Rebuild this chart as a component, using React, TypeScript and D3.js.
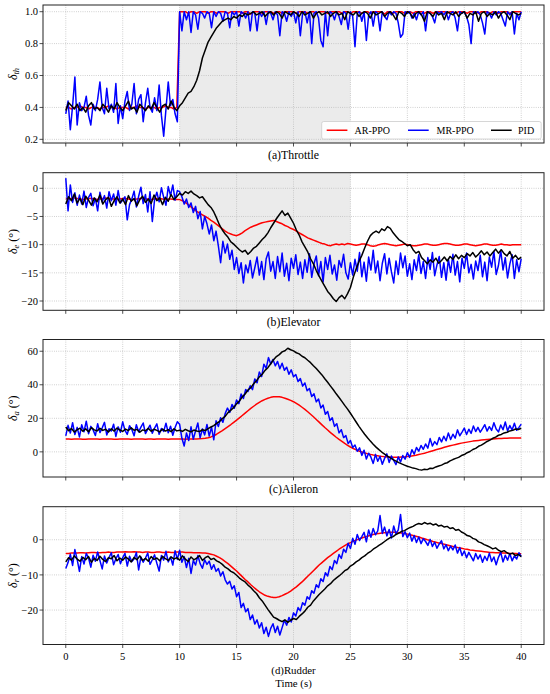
import React from "react";
import * as d3 from "d3";

// ---------------- DATA ----------------
const X_TICKS = [0, 5, 10, 15, 20, 25, 30, 35, 40];
const SHADE = [10, 25];
const DT_AR = 0.25;
const DT_PID = 0.25;
const DT_MR = 0.2;
const SERIES_NAMES = ["AR-PPO", "MR-PPO", "PID"];

// (a) Throttle
const THROTTLE_AR = [
  0.40, 0.40, 0.39, 0.40, 0.40, 0.41, 0.40, 0.40, 0.39, 0.40,
  0.40, 0.40, 0.39, 0.40, 0.40, 0.41, 0.40, 0.40, 0.39, 0.40,
  0.40, 0.40, 0.39, 0.40, 0.40, 0.41, 0.40, 0.40, 0.39, 0.40,
  0.40, 0.40, 0.39, 0.40, 0.40, 0.41, 0.40, 0.40, 0.39, 0.40,
  1.0,
  1.0, 1.0, 0.99, 1.0, 1.0, 0.99, 1.0, 1.0, 1.0, 0.99, 1.0, 1.0, 0.99, 1.0, 1.0, 1.0, 0.99, 1.0, 1.0, 1.0,
  1.0, 0.99, 1.0, 1.0, 0.985, 1.0, 1.0, 1.0, 0.99, 1.0, 1.0, 1.0, 0.99, 1.0, 1.0, 0.99, 1.0, 1.0, 1.0, 1.0,
  0.99, 1.0, 1.0, 1.0, 0.99, 1.0, 1.0, 0.99, 1.0, 1.0, 1.0, 0.99, 1.0, 1.0, 1.0, 1.0, 0.99, 1.0, 1.0, 0.99,
  1.0, 1.0, 1.0, 0.99, 1.0, 1.0, 0.99, 1.0, 1.0, 1.0, 1.0, 0.985, 1.0, 1.0, 0.99, 1.0, 1.0, 1.0, 0.99, 1.0,
  1.0, 0.99, 1.0, 1.0, 1.0, 0.99, 1.0, 1.0, 0.99, 1.0, 1.0, 1.0, 1.0, 0.99, 1.0, 1.0, 0.99, 1.0, 1.0, 1.0,
  0.99, 1.0, 1.0, 1.0, 0.99, 1.0, 1.0, 1.0, 0.99, 1.0, 1.0, 0.99, 1.0, 1.0, 1.0, 0.99, 1.0, 1.0, 1.0, 1.0,
];
const THROTTLE_MR = [
  0.36, 0.44, 0.26, 0.41, 0.59, 0.29, 0.43, 0.38, 0.40, 0.47,
  0.35, 0.29, 0.42, 0.38, 0.45, 0.56, 0.40, 0.36, 0.52, 0.39,
  0.42, 0.37, 0.55, 0.30, 0.41, 0.33, 0.44, 0.50, 0.38, 0.42,
  0.55, 0.36, 0.45, 0.48, 0.31, 0.43, 0.52, 0.40, 0.37, 0.46,
  0.38, 0.54, 0.35, 0.22, 0.39, 0.56, 0.41, 0.45, 0.36, 0.31,
  1.0,
  0.88, 1.0, 0.95, 1.0, 0.87, 1.0, 0.98, 0.89, 1.0, 0.99,
  0.96, 1.0, 0.99, 0.90, 1.0, 0.97, 1.0, 0.99, 0.94, 1.0,
  0.99, 0.90, 1.0, 0.98, 1.0, 0.91, 1.0, 0.99, 0.96, 1.0,
  0.88, 1.0, 0.99, 0.88, 1.0, 0.97, 1.0, 0.92, 1.0, 0.99,
  0.95, 1.0, 0.98, 0.85, 1.0, 0.99, 0.94, 1.0, 0.97, 1.0,
  0.93, 1.0, 0.85, 0.99, 1.0, 0.93, 1.0, 0.80, 0.99, 1.0,
  0.96, 0.82, 0.78, 1.0, 0.85, 1.0, 0.99, 0.95, 1.0, 0.97,
  0.92, 1.0, 0.99, 0.89, 1.0, 0.97, 0.78, 0.99, 1.0, 0.94,
  1.0, 0.82, 0.98, 1.0, 0.91, 1.0, 0.99, 0.88, 1.0, 0.97,
  0.95, 1.0, 0.98, 1.0, 0.99, 0.93, 0.84, 0.86, 1.0, 0.99,
  1.0, 0.96, 0.99, 0.95, 1.0, 0.98, 1.0, 0.88, 1.0, 0.99,
  0.97, 0.93, 1.0, 0.99, 1.0, 0.98, 1.0, 0.95, 0.99, 1.0,
  0.96, 0.88, 1.0, 0.99, 1.0, 0.97, 0.92, 0.80, 1.0, 0.99,
  1.0, 0.98, 0.93, 0.86, 1.0, 0.99, 0.96, 1.0, 0.98, 1.0,
  0.99, 0.95, 0.91, 1.0, 0.98, 1.0, 0.86, 0.99, 0.95, 1.0,
];
const THROTTLE_PID = [
  0.38, 0.43, 0.41, 0.39, 0.42, 0.38, 0.40, 0.37, 0.41, 0.43,
  0.39, 0.40, 0.38, 0.42, 0.40, 0.37, 0.41, 0.39, 0.43, 0.40,
  0.38, 0.41, 0.44, 0.39, 0.40, 0.37, 0.42, 0.40, 0.38, 0.41,
  0.39, 0.43, 0.40, 0.37, 0.41, 0.42, 0.39, 0.44, 0.40, 0.38,
  0.41,
  0.43, 0.46, 0.49, 0.50, 0.53, 0.57, 0.63, 0.71, 0.76, 0.81, 0.84, 0.87,
  0.90, 0.92, 0.94, 0.95, 0.96, 0.95, 0.97, 0.96, 0.98, 0.97, 0.99, 0.98,
  0.99, 1.0, 0.98, 0.99, 1.0, 0.97, 0.99, 1.0, 0.98, 1.0, 0.99, 0.96,
  1.0, 0.99, 0.98, 1.0, 0.99, 0.97, 1.0, 0.98, 0.99, 1.0, 0.96, 0.99,
  1.0, 0.98, 0.99, 1.0, 0.97, 0.99, 1.0, 0.98, 0.99, 0.95, 1.0, 0.99,
  0.98, 1.0, 0.97, 0.99, 1.0, 0.99, 0.96, 1.0, 0.98, 0.99, 1.0, 0.97,
  0.99, 1.0, 0.98, 0.95, 1.0, 0.99, 0.97, 1.0, 0.99, 0.96, 0.99, 1.0,
  0.98, 0.94, 1.0, 0.99, 0.97, 1.0, 0.98, 0.99, 0.95, 1.0, 0.99, 0.98,
  1.0, 0.97, 0.99, 1.0, 0.96, 0.99, 0.98, 1.0, 0.94, 0.99, 1.0, 0.97,
  0.99, 0.98, 1.0, 0.96, 0.99, 1.0, 0.98, 0.95, 1.0, 0.99, 0.98, 0.99,
];
const THROTTLE_Y_TICKS = [0.2, 0.4, 0.6, 0.8, 1.0];

// (b) Elevator
const ELEVATOR_AR = [
  -1.8, -1.9, -1.8, -1.7, -1.8, -1.9, -2.0, -1.9, -1.8, -1.8,
  -1.9, -2.0, -1.9, -1.8, -1.7, -1.8, -1.9, -1.9, -2.0, -1.9,
  -1.8, -1.8, -1.9, -2.0, -2.0, -1.9, -1.8, -1.8, -1.9, -1.9,
  -2.0, -1.9, -1.8, -1.8, -1.9, -2.0, -1.9, -1.9, -2.0, -2.0,
  -2.0, -2.2, -2.5, -2.9, -3.3, -3.7, -4.1, -4.4, -4.7, -5.0,
  -5.3, -5.7, -6.0, -6.4, -6.8, -7.2, -7.6, -7.9, -8.1, -8.3,
  -8.4, -8.2, -7.9, -7.5, -7.2, -6.9, -6.7, -6.5, -6.3, -6.1,
  -6.0, -5.9, -5.8, -5.7, -5.9, -6.1, -6.3, -6.6, -6.8, -7.1,
  -7.3, -7.6, -7.9, -8.2, -8.5, -8.8, -9.0, -9.2, -9.4, -9.6,
  -9.8, -9.9, -10.1, -10.2, -10.0, -9.9, -10.0, -9.9, -10.0, -9.8,
  -9.9,
  -10.0, -10.1, -10.0, -9.9, -9.9, -10.0, -10.2, -10.3, -10.2, -10.0,
  -9.9, -9.8, -9.9, -10.0, -10.1, -10.2, -10.1, -10.0, -9.9, -10.0,
  -10.1, -10.2, -10.2, -10.1, -10.0, -9.9, -9.9, -10.0, -10.1, -10.1,
  -10.0, -9.9, -9.8, -9.8, -9.9, -10.0, -10.1, -10.1, -10.0, -9.9,
  -9.9, -10.0, -10.1, -10.2, -10.1, -10.0, -9.9, -9.9, -10.0, -10.1,
  -10.1, -10.0, -9.9, -10.0, -10.0, -10.1, -10.0, -10.0, -10.0, -10.0,
];
const ELEVATOR_MR = [
  1.8, -4.0, 0.6, -2.5, -0.8, -3.0, -1.2, -2.8, -0.5, -3.4,
  -1.6, -0.9, -3.1, -1.8, -4.0, -0.7, -2.4, -1.3, -3.5, -0.6,
  -2.2, -1.0, -3.0, -0.4, -2.6, -2.1, -1.5, -5.6, -2.9, -1.9,
  -0.5, -3.3, -1.4, 0.2, -2.7, -1.1, -4.2, -0.6, -5.9, -2.0,
  -0.7, -2.4, 0.1, -1.6, -3.0, 0.3, -1.3, 0.6, -2.1, -0.4,
  -0.6,
  -1.5, -2.8, -1.9, -3.4, -2.6, -4.3, -3.2, -5.4, -4.1, -7.2,
  -5.0, -6.3, -8.1, -6.5, -9.3, -7.6, -10.2, -13.2, -9.4, -11.5,
  -9.9, -12.6, -11.0, -14.4, -12.3, -15.1, -13.2, -16.8, -13.6, -15.0,
  -12.8, -15.9, -14.1, -12.2, -15.4, -13.0, -16.2, -12.5, -11.3, -14.7,
  -13.0, -16.0, -12.1, -14.8, -11.5, -15.6, -13.3, -16.4, -12.4, -14.2,
  -11.8, -15.3, -13.1, -16.0, -12.7, -14.9, -11.6, -15.8, -13.4, -12.0,
  -15.5, -13.0, -16.6, -12.3, -14.4, -11.9, -15.2, -13.6, -16.3, -12.8,
  -14.0, -11.7, -15.0, -16.1, -13.2, -15.4, -12.6, -14.7, -11.4, -15.7,
  -13.1, -16.5, -12.2, -14.5, -11.0, -15.0, -12.9, -16.4, -13.3, -11.6,
  -15.2, -12.4, -14.8, -16.8, -12.9, -15.3, -11.5, -14.1, -12.0, -15.6,
  -13.4, -16.2, -12.7, -14.6, -11.8, -15.1, -13.0, -16.0, -12.3, -14.4,
  -11.4, -15.5, -13.6, -12.1, -15.8, -13.2, -16.3, -12.6, -14.9, -11.7,
  -15.4, -13.0, -16.6, -12.4, -14.2, -11.5, -15.0, -13.5, -16.1, -12.9,
  -14.6, -11.9, -15.7, -13.1, -16.4, -12.2, -14.0, -11.2, -15.3, -13.7,
  -11.0, -14.5, -12.3, -15.9, -13.4, -11.8, -16.0, -12.7, -14.8, -12.5,
];
const ELEVATOR_PID = [
  -2.8, -1.5, -2.2, -1.0, -2.6, -1.8, -2.9, -1.4, -2.1, -3.0,
  -1.7, -2.4, -1.2, -2.8, -2.0, -1.6, -3.2, -2.2, -1.5, -2.6,
  -1.9, -2.9, -1.3, -2.3, -1.8, -3.1, -2.0, -1.4, -2.5, -1.9,
  -2.7, -1.2, -2.2, -1.7, -2.9, -1.6, -2.3, -1.1, -2.0, -1.5,
  -0.9, -1.2, -0.6, -0.9, -0.5, -1.0, -1.3, -1.7, -1.5, -2.2,
  -2.9, -3.4, -4.2, -5.3, -6.5, -7.4, -8.1, -8.7, -9.5, -9.9,
  -10.4, -10.9, -11.3, -11.0, -11.7, -11.2, -10.6, -10.3, -9.7, -9.1,
  -8.6, -7.9, -7.0, -6.2, -5.4, -4.7, -4.0, -4.8, -4.4, -5.3,
  -6.2, -7.4, -8.3, -9.5, -10.4, -11.3, -12.5, -13.4, -14.6, -15.6,
  -16.5, -17.4, -18.3, -18.9, -19.6, -20.1, -19.4, -19.0, -19.6, -18.7,
  -17.6,
  -15.8, -14.3, -13.0, -11.9, -10.6, -9.4, -8.4, -7.9, -7.6, -7.9,
  -7.2, -7.5, -6.8, -7.1, -7.9, -8.5, -9.1, -9.4, -9.8, -10.2,
  -10.0, -10.9, -11.5, -11.2, -12.3, -12.8, -13.4, -12.7, -13.1, -12.4,
  -13.3, -12.8, -12.2, -12.9, -12.1, -12.6, -11.8, -12.5, -11.9, -12.3,
  -11.6, -12.0, -11.4, -12.2, -11.7, -11.1, -11.8, -11.3, -12.0, -11.4,
  -10.8, -11.5, -10.9, -11.6, -12.0, -11.2, -12.4, -11.9, -12.6, -12.2,
];
const ELEVATOR_Y_TICKS = [-20, -15, -10, -5, 0];

// (c) Aileron
const AILERON_AR = [
  7.6, 7.6, 7.5, 7.6, 7.7, 7.6, 7.5, 7.5, 7.6, 7.7,
  7.7, 7.6, 7.5, 7.6, 7.6, 7.7, 7.6, 7.5, 7.5, 7.6,
  7.7, 7.6, 7.6, 7.5, 7.6, 7.7, 7.7, 7.6, 7.5, 7.6,
  7.6, 7.5, 7.6, 7.7, 7.6, 7.6, 7.5, 7.6, 7.7, 7.6,
  7.6, 7.6, 7.5, 7.6, 7.6, 7.7, 7.7, 7.8, 7.9, 8.1,
  8.4, 8.9, 9.6, 10.5, 11.6, 12.7, 13.9, 15.1, 16.3, 17.6,
  18.9, 20.3, 21.7, 23.1, 24.5, 25.9, 27.2, 28.4, 29.5, 30.5,
  31.3, 32.0, 32.5, 32.8, 32.9, 32.8, 32.5, 32.0, 31.4, 30.7,
  29.9, 28.9, 27.8, 26.6, 25.3, 23.9, 22.4, 20.9, 19.3, 17.7,
  16.1, 14.5, 13.0, 11.5, 10.1, 8.7, 7.4, 6.2, 5.0, 3.9,
  2.9,
  2.0, 1.2, 0.5, -0.1, -0.6, -1.1, -1.5, -1.9, -2.2, -2.5,
  -2.7, -2.9, -3.0, -3.1, -3.2, -3.2, -3.2, -3.1, -3.0, -2.8,
  -2.6, -2.3, -2.0, -1.6, -1.2, -0.8, -0.3, 0.2, 0.7, 1.2,
  1.7, 2.2, 2.7, 3.2, 3.6, 4.0, 4.4, 4.8, 5.2, 5.5,
  5.8, 6.1, 6.4, 6.6, 6.8, 7.0, 7.2, 7.4, 7.5, 7.6,
  7.8, 7.9, 8.0, 8.1, 8.1, 8.2, 8.2, 8.3, 8.3, 8.3,
];
const AILERON_MR = [
  9.5, 15.8, 11.2, 17.4, 10.3, 14.6, 8.9, 16.1, 12.0, 18.3,
  10.8, 15.2, 13.1, 9.7, 16.8, 11.5, 14.3, 17.6, 10.1, 13.8,
  12.4, 16.5, 9.2, 14.9, 11.7, 17.9, 12.8, 10.4, 15.6, 13.3,
  9.6, 16.2, 11.9, 14.7, 17.2, 10.9, 13.6, 15.9, 11.1, 14.2,
  16.7, 10.5, 13.9, 12.2, 17.1, 11.4, 15.3, 9.9, 14.5, 18.0,
  16.4, 8.1, 3.5, 11.2, 6.8, 14.9, 7.5, 12.6, 17.2, 8.3,
  13.7, 10.1, 16.3, 9.4, 14.8, 7.2, 18.5, 15.1, 20.3, 17.6,
  22.8, 26.1, 23.5, 28.3, 26.0, 30.9, 28.7, 34.5, 31.8, 37.2,
  36.0, 39.4, 37.1, 43.5, 41.2, 47.6, 44.9, 52.3, 49.8, 56.2,
  52.4, 55.1, 51.3, 53.9, 49.6, 52.8, 48.7, 50.5, 46.3, 48.9,
  44.8, 46.1, 42.0, 43.7, 39.2, 41.1, 36.4, 37.8, 33.0, 34.6,
  29.8, 31.5, 26.2, 27.9, 22.4, 24.1, 18.7, 20.3, 15.2, 16.8,
  11.3, 13.2, 8.5, 9.7, 4.9, 6.8, 2.6, 4.1, 0.3, 2.4,
  -2.1, 1.0, -4.3, -0.8, -3.2, -6.9, -1.5, -5.6, -2.7, -7.4,
  -3.9, -1.2, -6.3, -2.5, -5.1, -7.6, -3.0, -6.0, -2.2, -4.4,
  -0.5, -3.3, 1.3, -1.4, 2.6, 0.4, 3.8, 1.5, 4.7, 2.2,
  7.9, 3.5, 6.1, 4.3, 8.6, 5.9, 9.3, 6.6, 11.2, 7.4,
  10.5, 8.2, 13.1, 9.6, 11.8, 14.2, 10.3, 13.5, 11.0, 15.4,
  12.1, 14.6, 11.7, 13.9, 16.2, 12.4,
  15.0, 12.8, 17.3, 13.6, 11.9, 16.0, 13.2, 17.8, 12.5, 15.7,
  13.0, 17.1, 12.9, 14.6, 16.5,
];
const AILERON_PID = [
  14.8, 12.6, 13.9, 11.8, 13.2, 14.1, 12.3, 13.7, 12.0, 14.4,
  13.1, 12.5, 14.0, 12.8, 13.5, 11.9, 13.8, 12.4, 14.2, 13.0,
  12.2, 13.6, 12.7, 14.3, 12.9, 13.4, 11.7, 13.1, 12.6, 14.0,
  12.3, 13.5, 12.8, 11.9, 13.6, 12.4, 13.2, 12.0, 13.7, 12.5,
  12.9, 12.2, 13.4, 12.6, 11.9, 13.0, 12.4, 12.1, 13.2, 12.7,
  13.9, 14.8, 15.6, 17.0, 18.1, 19.8, 21.2, 23.4, 24.9, 26.5,
  28.6, 30.3, 32.8, 34.5, 36.9, 38.3, 40.6, 42.4, 44.7, 46.3,
  48.6, 50.2, 52.5, 54.9, 56.8, 58.0, 59.6, 60.3, 61.8, 60.9,
  60.2, 59.1, 58.4, 57.0, 56.1, 54.6, 53.2, 51.4, 49.7, 47.8,
  45.9, 43.6, 41.5, 39.2, 37.0, 34.6, 32.4, 30.1, 27.7, 25.5,
  23.0,
  20.4, 17.8, 15.2, 12.8, 10.5, 8.4, 6.4, 4.5, 2.8, 1.3,
  -0.1, -1.3, -2.5, -3.6, -4.6, -5.5, -6.4, -7.2, -7.9, -8.6,
  -9.1, -9.7, -10.0, -10.6, -10.9, -10.4, -10.6, -9.8, -9.9, -9.0,
  -8.4, -7.9, -7.0, -6.5, -5.4, -4.6, -3.9, -3.3, -2.2, -1.6,
  -0.5, 0.2, 1.4, 2.1, 3.3, 4.0, 5.1, 6.2, 7.0, 8.1,
  8.8, 9.9, 10.4, 11.3, 11.7, 12.5, 12.8, 13.6, 13.3, 14.1,
];
const AILERON_Y_TICKS = [0, 20, 40, 60];

// (d) Rudder
const RUDDER_AR = [
  -3.9, -3.9, -3.8, -3.8, -3.8, -3.7, -3.7, -3.8, -3.7, -3.6,
  -3.6, -3.7, -3.7, -3.6, -3.6, -3.5, -3.6, -3.6, -3.5, -3.5,
  -3.5, -3.4, -3.5, -3.5, -3.4, -3.5, -3.5, -3.6, -3.5, -3.5,
  -3.6, -3.6, -3.5, -3.5, -3.6, -3.6, -3.5, -3.6, -3.6, -3.5,
  -3.5, -3.5, -3.6, -3.6, -3.6, -3.7, -3.7, -3.7, -3.8, -3.8,
  -3.9, -4.1, -4.3, -4.7, -5.1, -5.6, -6.2, -6.8, -7.5, -8.2,
  -8.9, -9.7, -10.5, -11.3, -12.0, -12.8, -13.5, -14.2, -14.8, -15.3,
  -15.8, -16.1, -16.3, -16.4, -16.4, -16.2, -15.9, -15.5, -15.1, -14.6,
  -14.0, -13.4, -12.7, -12.0, -11.2, -10.4, -9.6, -8.8, -8.0, -7.2,
  -6.5, -5.8, -5.1, -4.5, -3.9, -3.3, -2.7, -2.2, -1.7, -1.2,
  -0.8,
  -0.4, -0.1, 0.2, 0.5, 0.8, 1.0, 1.3, 1.5, 1.7, 1.8,
  1.9, 2.0, 2.1, 2.1, 2.1, 2.1, 2.0, 1.9, 1.8, 1.6,
  1.4, 1.2, 1.0, 0.8, 0.5, 0.3, 0.0, -0.2, -0.5, -0.7,
  -0.9, -1.1, -1.3, -1.5, -1.7, -1.9, -2.1, -2.3, -2.4, -2.6,
  -2.7, -2.9, -3.0, -3.1, -3.2, -3.3, -3.4, -3.5, -3.6, -3.6,
  -3.7, -3.7, -3.8, -3.8, -3.8, -3.9, -3.9, -3.9, -4.0, -4.0,
];
const RUDDER_MR = [
  -8.2, -6.5, -4.1, -7.3, -2.8, -5.6, -9.0, -4.8, -6.9, -3.9,
  -5.2, -7.8, -4.4, -6.1, -3.5, -5.9, -8.3, -4.6, -6.6, -5.0,
  -3.7, -7.1, -5.4, -4.2, -6.8, -5.1, -3.9, -7.5, -4.7, -6.2,
  -5.5, -3.6, -8.6, -4.9, -6.4, -5.2, -3.8, -7.0, -5.7, -4.3,
  -6.7, -8.9, -4.5, -5.8, -3.3, -6.3, -4.9, -7.2, -3.1, -5.6,
  -3.0, -6.4, -4.8, -7.9, -5.3, -9.6, -5.9, -7.2, -4.5, -6.8,
  -8.1, -5.7, -7.0, -6.1, -8.4, -7.1, -9.0, -8.2, -10.3, -9.1,
  -11.4, -12.6, -11.8, -14.0, -13.1, -16.2, -15.0, -19.3, -18.1, -20.5,
  -19.6, -22.7, -21.4, -24.0, -22.8, -25.1, -23.6, -26.7, -24.9, -27.5,
  -25.2, -23.9, -26.4, -24.6, -27.1, -25.0, -22.9, -24.3, -22.1, -23.4,
  -20.8, -21.7, -19.3, -20.2, -17.9, -18.6, -16.2, -16.9, -14.5, -15.2,
  -12.8, -13.6, -11.1, -11.9, -9.4, -10.3, -7.6, -8.5, -5.9, -6.8,
  -4.2, -5.3, -2.7, -3.6, -1.0, -2.5, 0.4, -1.3, 1.5, -0.2,
  0.9, 2.1, -0.6, 2.8, 0.7, 3.2, 1.4, 2.5, 6.9, 1.8,
  3.6, 1.1, 2.9, 0.5, 3.9, 1.7, 2.8, 7.2, 0.9, 2.3,
  0.6, 1.9, -0.4, 1.2, -0.8, 0.8, -1.1, 0.3, -0.5, -1.6,
  0.1, -1.9, -0.7, -2.4, -1.2, -0.3, -2.6, -1.4, -3.1, -1.8,
  -2.9, -1.5, -3.8, -2.2, -4.5, -3.2, -5.1, -3.6, -4.8, -6.0,
  -3.9, -5.5, -4.3, -6.4, -4.7, -5.9,
  -3.8, -6.2, -4.9, -7.1, -5.0, -3.6, -6.3, -4.4, -5.8, -3.9,
  -6.0, -4.6, -5.5, -3.7, -4.8,
];
const RUDDER_PID = [
  -6.3, -5.1, -5.8, -4.6, -5.5, -6.1, -5.0, -5.7, -4.8, -6.4,
  -5.3, -5.9, -4.7, -5.6, -6.2, -5.1, -5.4, -4.5, -6.0, -5.2,
  -5.8, -4.9, -5.5, -6.3, -5.0, -5.7, -4.6, -5.9, -5.3, -6.1,
  -4.8, -5.6, -5.2, -6.0, -4.7, -5.4, -5.9, -4.9, -5.5, -5.1,
  -5.8, -4.6, -5.5, -6.2, -4.9, -5.7, -5.2, -4.5, -5.9, -5.1,
  -4.7, -5.6, -5.3, -6.0, -6.4, -7.0, -7.8, -8.3, -9.0, -9.4,
  -10.1, -10.9, -11.5, -12.0, -12.9, -13.6, -14.5, -15.3, -16.5, -17.4,
  -18.6, -19.8, -20.9, -22.0, -22.4, -22.9, -23.3, -22.8, -23.5, -22.9,
  -22.4, -22.7, -21.8, -21.1, -20.3, -19.2, -18.6, -17.4, -16.5, -15.6,
  -14.8, -14.0, -13.1, -12.5, -11.6, -10.9, -10.3, -9.6, -8.8, -8.4,
  -7.5,
  -7.0, -6.3, -5.8, -5.1, -4.6, -3.9, -3.4, -2.7, -2.2, -1.6,
  -1.1, -0.5, 0.1, 0.6, 0.9, 1.5, 1.9, 2.4, 2.6, 3.1,
  3.5, 3.8, 4.3, 4.6, 4.4, 4.9, 4.5, 4.7, 4.2, 4.5,
  3.9, 4.1, 3.6, 3.8, 3.2, 3.4, 2.7, 2.9, 2.2, 1.8,
  1.2, 1.0, 0.4, 0.1, -0.6, -0.9, -1.4, -1.7, -2.1, -2.6,
  -2.3, -3.0, -3.4, -3.1, -3.7, -4.1, -3.8, -4.5, -4.2, -4.8,
];
const RUDDER_Y_TICKS = [-20, -10, 0];

// ---------------- LAYOUT ----------------
const W = 550;
const H = 694;
const LEFT = 43;
const RIGHT = 544;
const FONT = "'Liberation Serif', 'Times New Roman', serif";
const COLORS = ["#ff0000", "#0000ff", "#000000"];

type Panel = {
  title: string;
  sub: string;
  unit: boolean;
  top: number;
  bottom: number;
  domain: [number, number];
  ticks: number[];
  fmt: (v: number) => string;
  ar: number[];
  mr: number[];
  pid: number[];
};

const minus = (s: string) => s.replace("-", "\u2212");

const PANELS: Panel[] = [
  { title: "(a)Throttle", sub: "th", unit: false, top: 5, bottom: 143, domain: [0.177, 1.042], ticks: THROTTLE_Y_TICKS, fmt: (v) => v.toFixed(1), ar: THROTTLE_AR, mr: THROTTLE_MR, pid: THROTTLE_PID },
  { title: "(b)Elevator", sub: "e", unit: true, top: 172.7, bottom: 310.3, domain: [-21.65, 2.77], ticks: ELEVATOR_Y_TICKS, fmt: (v) => minus(String(v)), ar: ELEVATOR_AR, mr: ELEVATOR_MR, pid: ELEVATOR_PID },
  { title: "(c)Aileron", sub: "a", unit: true, top: 339.5, bottom: 477, domain: [-15, 67], ticks: AILERON_Y_TICKS, fmt: (v) => minus(String(v)), ar: AILERON_AR, mr: AILERON_MR, pid: AILERON_PID },
  { title: "(d)Rudder", sub: "r", unit: true, top: 506.7, bottom: 644.5, domain: [-29.8, 9.4], ticks: RUDDER_Y_TICKS, fmt: (v) => minus(String(v)), ar: RUDDER_AR, mr: RUDDER_MR, pid: RUDDER_PID },
];

const x = d3.scaleLinear().domain([-2, 42]).range([LEFT, RIGHT]);

function PanelView({ p, idx, last }: { p: Panel; idx: number; last: boolean }) {
  const y = d3.scaleLinear().domain(p.domain).range([p.bottom, p.top]);
  const mk = (vals: number[], dt: number) =>
    d3
      .line<number>()
      .x((_, i) => x(i * dt))
      .y((v) => y(v))(vals) || "";
  const clipId = `clip${idx}`;
  const mid = (p.top + p.bottom) / 2;
  const grid = "#b8b8b8";
  const cx = (LEFT + RIGHT) / 2;
  return (
    <g>
      <defs>
        <clipPath id={clipId}>
          <rect x={LEFT} y={p.top} width={RIGHT - LEFT} height={p.bottom - p.top} />
        </clipPath>
      </defs>
      <rect x={LEFT} y={p.top} width={RIGHT - LEFT} height={p.bottom - p.top} fill="#fff" />
      <rect
        x={x(SHADE[0])}
        y={p.top}
        width={x(SHADE[1]) - x(SHADE[0])}
        height={p.bottom - p.top}
        fill="#ebebeb"
      />
      {X_TICKS.map((t) => (
        <line key={"gx" + t} x1={x(t)} x2={x(t)} y1={p.top} y2={p.bottom} stroke={grid} strokeWidth={0.8} strokeDasharray="0.8,1.4" />
      ))}
      {p.ticks.map((t) => (
        <line key={"gy" + t} x1={LEFT} x2={RIGHT} y1={y(t)} y2={y(t)} stroke={grid} strokeWidth={0.8} strokeDasharray="0.8,1.4" />
      ))}
      <g clipPath={`url(#${clipId})`} fill="none" strokeWidth={1.5} strokeLinejoin="round">
        <path d={mk(p.ar, DT_AR)} stroke={COLORS[0]} />
        <path d={mk(p.mr, DT_MR)} stroke={COLORS[1]} />
        <path d={mk(p.pid, DT_PID)} stroke={COLORS[2]} />
      </g>
      <rect x={LEFT} y={p.top} width={RIGHT - LEFT} height={p.bottom - p.top} fill="none" stroke="#222" strokeWidth={1} />
      {X_TICKS.map((t) => (
        <line key={"tx" + t} x1={x(t)} x2={x(t)} y1={p.bottom} y2={p.bottom + 3.5} stroke="#222" strokeWidth={0.8} />
      ))}
      {p.ticks.map((t) => (
        <g key={"ty" + t}>
          <line x1={LEFT - 3.5} x2={LEFT} y1={y(t)} y2={y(t)} stroke="#222" strokeWidth={0.8} />
          <text x={LEFT - 5} y={y(t)} dy="0.35em" textAnchor="end" fontFamily={FONT} fontSize={10.5} fill="#000">
            {p.fmt(t)}
          </text>
        </g>
      ))}
      {last &&
        X_TICKS.map((t) => (
          <text key={"lx" + t} x={x(t)} y={p.bottom + 15.3} textAnchor="middle" fontFamily={FONT} fontSize={10.5} fill="#000">
            {String(t)}
          </text>
        ))}
      <text transform={`translate(16.5, ${mid}) rotate(-90)`} textAnchor="middle" fontFamily={FONT} fontSize={12} fill="#000">
        <tspan fontStyle="italic">δ</tspan>
        <tspan fontStyle="italic" fontSize={8.5} dy={2.6}>
          {p.sub}
        </tspan>
        {p.unit ? <tspan dy={-2.6}>{" (°)"}</tspan> : null}
      </text>
      <text
        x={cx}
        y={last ? p.bottom + 29.3 : p.bottom + 15.8}
        textAnchor="middle"
        fontFamily={FONT}
        fontSize={last ? 10.8 : 11.8}
        fill="#000"
      >
        {p.title}
      </text>
      {last && (
        <text x={cx} y={p.bottom + 42} textAnchor="middle" fontFamily={FONT} fontSize={10.8} fill="#000">
          Time (s)
        </text>
      )}
    </g>
  );
}

function Legend() {
  const lx = 321.7;
  const ly = 121.5;
  const w = 219.5;
  const h = 17.5;
  const cy = ly + h / 2;
  const items = [
    { x0: 326.7, tx: 354.5 },
    { x0: 408, tx: 436.5 },
    { x0: 491, tx: 518 },
  ];
  return (
    <g>
      <rect x={lx} y={ly} width={w} height={h} rx={2} fill="#fff" fillOpacity={0.9} stroke="#cccccc" strokeWidth={0.8} />
      {items.map((it, i) => (
        <g key={i}>
          <line x1={it.x0} x2={it.x0 + 20.7} y1={cy} y2={cy} stroke={COLORS[i]} strokeWidth={1.5} />
          <text x={it.tx} y={cy} dy="0.35em" fontFamily={FONT} fontSize={10} fill="#000">
            {SERIES_NAMES[i]}
          </text>
        </g>
      ))}
    </g>
  );
}

export default function App() {
  return (
    <svg
      width={W}
      height={H}
      viewBox={`0 0 ${W} ${H}`}
      style={{ position: "absolute", left: 0, top: 0, background: "#fff" }}
    >
      <rect x={0} y={0} width={W} height={H} fill="#fff" />
      {PANELS.map((p, i) => (
        <PanelView key={i} p={p} idx={i} last={i === PANELS.length - 1} />
      ))}
      <Legend />
    </svg>
  );
}
